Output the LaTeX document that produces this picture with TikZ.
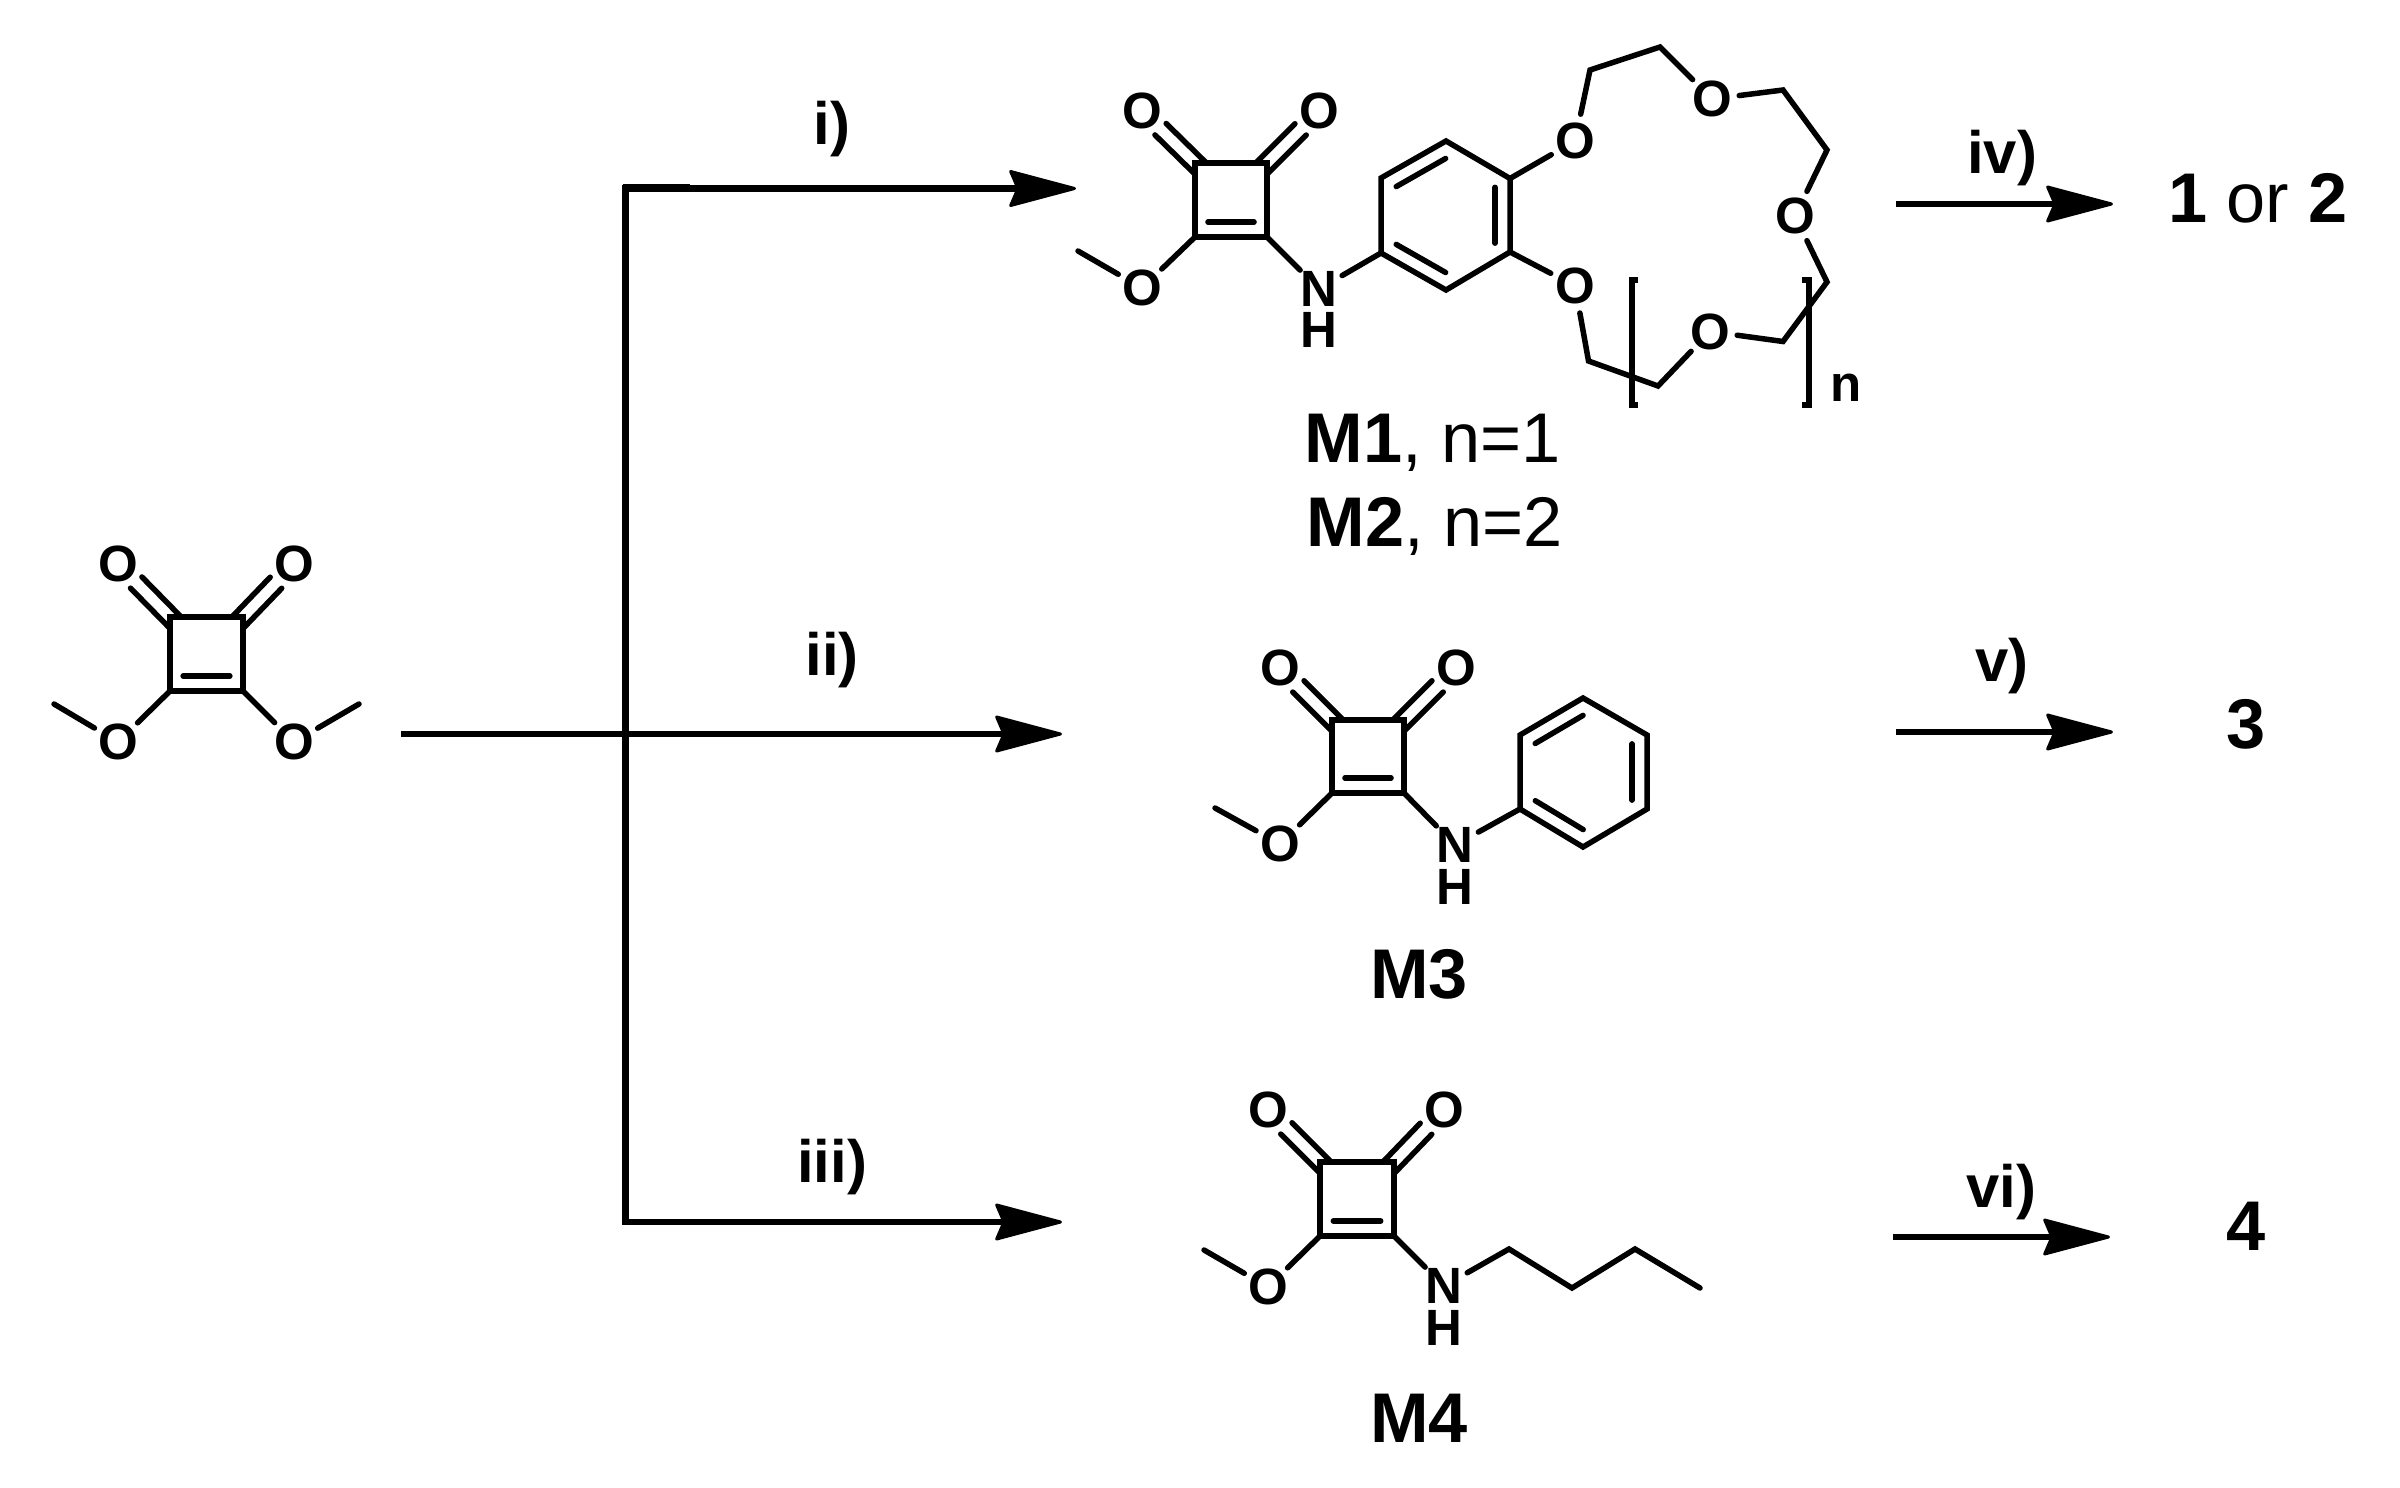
\documentclass[tikz,border=0pt]{standalone}
\usepackage{fontspec}
\setmainfont{Liberation Sans}
\usetikzlibrary{calc,arrows.meta}
\tikzset{
  bond/.style={line width=0.055cm,line cap=round,line join=miter},
  ring/.style={line width=0.055cm,line join=miter},
  flow/.style={line width=0.062cm,line cap=butt,-{Stealth[length=0.72cm,width=0.38cm,inset=0.08cm,line width=0.03cm,round]}},
  branch/.style={line width=0.062cm,line cap=butt},
  atom/.style={circle,inner sep=0pt,minimum size=0.52cm,font=\fontsize{14.5pt}{15pt}\selectfont\bfseries},
  hatom/.style={inner sep=0pt,font=\fontsize{14.5pt}{15pt}\selectfont\bfseries},
  cond/.style={inner sep=0pt,anchor=base,font=\fontsize{17pt}{18pt}\selectfont\bfseries},
  prod/.style={inner sep=0pt,anchor=base,font=\fontsize{20pt}{22pt}\selectfont},
  idx/.style={inner sep=0pt,anchor=base west,font=\fontsize{14.5pt}{15pt}\selectfont\bfseries}
}
% C=O double bond: corner #1, oxygen node #2
\newcommand{\cdo}[2]{%
  \draw[bond,shorten <=-0.08cm,shorten >=0.26cm] ($(#1)!0.08cm!90:(#2)$) -- ($(#2)!0.08cm!-90:(#1)$);
  \draw[bond,shorten <=-0.08cm,shorten >=0.26cm] ($(#1)!0.08cm!-90:(#2)$) -- ($(#2)!0.08cm!90:(#1)$);}
% inner line of a ring double bond, on the left of the way from #2 to #3
\newcommand{\inn}[3]{%
  \draw[bond] ($(#2)!#1!(#3)!0.15cm!90:(#3)$) -- ($(#3)!#1!(#2)!0.15cm!-90:(#2)$);}
% squarate ring with corners tl tr bl br under prefix #1
\newcommand{\sq}[1]{%
  \draw[ring] (#1tl) -- (#1tr) -- (#1br) -- (#1bl) -- cycle;
  \inn{0.18}{#1bl}{#1br}}
\begin{document}
\begin{tikzpicture}[x=0.01cm,y=-0.01cm]
\useasboundingbox (0,0) rectangle (2400,1488);

% ---------- starting squarate
\coordinate (atl) at (170,617); \coordinate (atr) at (243,617);
\coordinate (abl) at (170,691); \coordinate (abr) at (243,691);
\node[atom] (aoa) at (118,564) {O};
\node[atom] (aob) at (294,564) {O};
\node[atom] (aoc) at (118,742) {O};
\node[atom] (aod) at (294,742) {O};
\coordinate (ama) at (54,704); \coordinate (amb) at (359,704);
\sq{a}
\cdo{atl}{aoa} \cdo{atr}{aob}
\draw[bond] (abl) -- (aoc); \draw[bond] (abr) -- (aod);
\draw[bond] (ama) -- (aoc); \draw[bond] (amb) -- (aod);

% ---------- flow lines
\coordinate (s0) at (401,734);
\coordinate (jt) at (625.5,188.5);
\coordinate (jb) at (625.5,1222);
\coordinate (ti) at (1076,188.5);
\coordinate (tii) at (1062,734);
\coordinate (tiii) at (1062,1222);
\draw[branch] (625.5,185) -- (625.5,1225);
\draw[branch] (622.5,187.5) -- (690,187.5);
\draw[flow] (jt) -- (ti);
\draw[flow] (s0) -- (tii);
\draw[flow] (jb) -- (tiii);
\coordinate (siv) at (1896,204); \coordinate (tiv) at (2113,204);
\coordinate (sv) at (1896,732); \coordinate (tv) at (2113,732);
\coordinate (svi) at (1893,1237); \coordinate (tvi) at (2110,1237);
\draw[flow] (siv) -- (tiv);
\draw[flow] (sv) -- (tv);
\draw[flow] (svi) -- (tvi);

\node[cond] (li) at (832,145) {i)};
\node[cond] (lii) at (832,675) {ii)};
\node[cond] (liii) at (832,1182) {iii)};
\node[cond] (liv) at (2002,173) {iv)};
\node[cond] (lv) at (2002,681) {v)};
\node[cond] (lvi) at (2001,1207) {vi)};

\node[prod] (p12) at (2258,222) {\textbf{1} or \textbf{2}};
\node[prod] (p3) at (2246,748) {\textbf{3}};
\node[prod] (p4) at (2246,1250) {\textbf{4}};

% ---------- M1
\coordinate (btl) at (1195,163); \coordinate (btr) at (1267,163);
\coordinate (bbl) at (1195,237); \coordinate (bbr) at (1267,237);
\node[atom] (boa) at (1142,111) {O};
\node[atom] (bob) at (1319,111) {O};
\node[atom] (boc) at (1142,288) {O};
\node[atom] (bn) at (1319,289) {N};
\node[hatom] (bh) at (1319,330) {H};
\coordinate (bme) at (1078,251);
\sq{b}
\cdo{btl}{boa} \cdo{btr}{bob}
\draw[bond] (bbl) -- (boc); \draw[bond] (bme) -- (boc);
\draw[bond] (bbr) -- (bn);
\coordinate (r1) at (1381,253); \coordinate (r2) at (1381,178);
\coordinate (r3) at (1446,141); \coordinate (r4) at (1510,178.5);
\coordinate (r5) at (1510,252); \coordinate (r6) at (1446,290);
\draw[ring] (r1) -- (r2) -- (r3) -- (r4) -- (r5) -- (r6) -- cycle;
\inn{0.12}{r3}{r2} \inn{0.12}{r5}{r4} \inn{0.12}{r1}{r6}
\draw[bond] (bn) -- (r1);
\node[atom] (c1) at (1575,141) {O};
\node[atom] (c2) at (1575,286) {O};
\node[atom] (c3) at (1712,99) {O};
\node[atom] (c4) at (1795,216) {O};
\node[atom] (c5) at (1710,331.5) {O};
\coordinate (e1) at (1590,70); \coordinate (e2) at (1660,47);
\coordinate (e3) at (1783,90); \coordinate (e4) at (1827,150);
\coordinate (e5) at (1827,282); \coordinate (e6) at (1783,341.5);
\coordinate (e7) at (1658,386); \coordinate (e8) at (1588.5,361);
\draw[bond] (r4) -- (c1); \draw[bond] (r5) -- (c2);
\draw[bond] (c1) -- (e1) -- (e2) -- (c3);
\draw[bond] (c3) -- (e3) -- (e4) -- (c4);
\draw[bond] (c4) -- (e5) -- (e6) -- (c5);
\draw[bond] (c5) -- (e7) -- (e8) -- (c2);
\draw[bond,line cap=butt] (1638,280) -- (1632,280) -- (1632,405) -- (1638,405);
\draw[bond,line cap=butt] (1802,280) -- (1809,280) -- (1809,405) -- (1802,405);
\node[idx] (bidx) at (1830,401) {n};
\node[prod,anchor=base west] (m1) at (1304,462) {\textbf{M1}, n=1};
\node[prod,anchor=base west] (m2) at (1306,546) {\textbf{M2}, n=2};

% ---------- M3
\coordinate (dtl) at (1332,720); \coordinate (dtr) at (1404,720);
\coordinate (dbl) at (1332,793); \coordinate (dbr) at (1404,793);
\node[atom] (doa) at (1280,668) {O};
\node[atom] (dob) at (1456,668) {O};
\node[atom] (doc) at (1280,844) {O};
\node[atom] (dn) at (1455,845) {N};
\node[hatom] (dh) at (1455,887) {H};
\coordinate (dme) at (1215,808);
\sq{d}
\cdo{dtl}{doa} \cdo{dtr}{dob}
\draw[bond] (dbl) -- (doc); \draw[bond] (dme) -- (doc);
\draw[bond] (dbr) -- (dn);
\coordinate (q1) at (1520,809); \coordinate (q2) at (1520,735);
\coordinate (q3) at (1583,698); \coordinate (q4) at (1647,735);
\coordinate (q5) at (1647,809); \coordinate (q6) at (1583,847);
\draw[ring] (q1) -- (q2) -- (q3) -- (q4) -- (q5) -- (q6) -- cycle;
\inn{0.12}{q3}{q2} \inn{0.12}{q5}{q4} \inn{0.12}{q1}{q6}
\draw[bond] (dn) -- (q1);
\node[prod] (m3) at (1419,998) {\textbf{M3}};

% ---------- M4
\coordinate (ftl) at (1320,1162); \coordinate (ftr) at (1394,1162);
\coordinate (fbl) at (1320,1236); \coordinate (fbr) at (1394,1236);
\node[atom] (foa) at (1268,1110) {O};
\node[atom] (fob) at (1444,1110) {O};
\node[atom] (foc) at (1268,1287) {O};
\node[atom] (fn) at (1444,1286) {N};
\node[hatom] (fh) at (1444,1328) {H};
\coordinate (fme) at (1204,1250);
\sq{f}
\cdo{ftl}{foa} \cdo{ftr}{fob}
\draw[bond] (fbl) -- (foc); \draw[bond] (fme) -- (foc);
\draw[bond] (fbr) -- (fn);
\coordinate (g1) at (1509,1249); \coordinate (g2) at (1572,1288);
\coordinate (g3) at (1635,1249); \coordinate (g4) at (1700,1288);
\draw[bond] (fn) -- (g1) -- (g2) -- (g3) -- (g4);
\node[prod] (m4) at (1419,1442) {\textbf{M4}};
\end{tikzpicture}
\end{document}
